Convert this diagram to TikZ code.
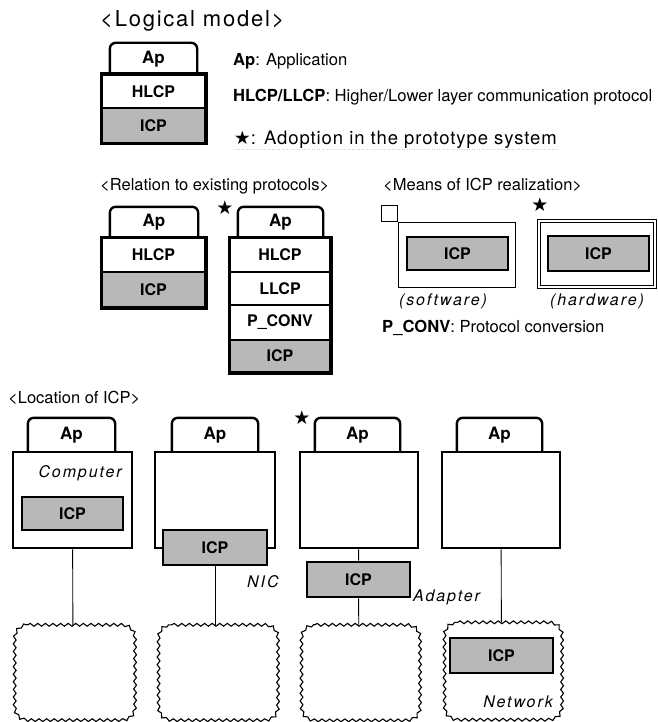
\documentclass[tikz,border=0pt]{standalone}
\usepackage{fontspec}
\setmainfont{TeX Gyre Heros}
\newfontfamily\symf{DejaVu Sans}
\newfontfamily\spc[LetterSpace=12]{TeX Gyre Heros}
\newfontfamily\spcs[LetterSpace=8]{TeX Gyre Heros}
\newfontfamily\spcm[LetterSpace=5]{TeX Gyre Heros}
\usetikzlibrary{decorations.pathmorphing}
\definecolor{icpgray}{gray}{0.72}
\newcommand\wavyframe[1]{%
  \draw[cloudline] ([xshift=15pt]#1.north west) -- ([xshift=-15pt]#1.north east)
    .. controls ([xshift=-5pt]#1.north east) and ([yshift=-5pt]#1.north east) .. ([yshift=-15pt]#1.north east)
    -- ([yshift=15pt]#1.south east)
    .. controls ([yshift=5pt]#1.south east) and ([xshift=-5pt]#1.south east) .. ([xshift=-15pt]#1.south east)
    -- ([xshift=15pt]#1.south west)
    .. controls ([xshift=5pt]#1.south west) and ([yshift=5pt]#1.south west) .. ([yshift=15pt]#1.south west)
    -- ([yshift=-15pt]#1.north west)
    .. controls ([yshift=-5pt]#1.north west) and ([xshift=5pt]#1.north west) .. ([xshift=15pt]#1.north west) -- cycle;}
\begin{document}
\begin{tikzpicture}[x=1pt,y=-1pt,
  cell/.style={draw, line width=2pt, fill=white, inner sep=0pt, font=\fontsize{16}{18}\selectfont\bfseries},
  gcell/.style={cell, fill=icpgray},
  tabn/.style={inner sep=0pt, font=\fontsize{17}{19}\selectfont\bfseries},
  tabline/.style={line width=2.4pt, rounded corners=6pt},
  frame/.style={line width=3pt},
  icp/.style={draw, line width=2.6pt, fill=icpgray, inner sep=0pt, font=\fontsize{16}{18}\selectfont\bfseries},
  comp/.style={draw, line width=2.6pt, fill=white, inner sep=0pt},
  cloudbox/.style={inner sep=0pt},
  cloudline/.style={line width=1.1pt, decorate, decoration={snake, segment length=7.6pt, amplitude=1.4pt}},
  wire/.style={line width=0.9pt},
  ilab/.style={inner sep=0pt, font=\fontsize{16}{18}\selectfont\spc\itshape},
  head/.style={inner sep=0pt, anchor=base west, font=\fontsize{16.5}{18}\selectfont},
  note/.style={inner sep=0pt, anchor=base west, font=\fontsize{16.6}{18}\selectfont},
  star/.style={inner sep=0pt, font=\fontsize{19}{21}\selectfont\symf}
]
\useasboundingbox (0,0) rectangle (657,722);

% ---------- Logical model ----------
\node[inner sep=0pt, anchor=base west, font=\fontsize{22}{24}\selectfont\spcs] (tlog) at (100,27) {<Logical model>};
\node[tabn, minimum width=87pt, minimum height=32pt] (lt) at (153.5,59) {Ap};
\draw[tabline] (lt.south west) -- (lt.north west) -- (lt.north east) -- (lt.south east);
\node[cell, minimum width=103pt, minimum height=33pt] (lh) at (153.5,91.5) {HLCP};
\node[gcell, minimum width=103pt, minimum height=35pt] (li) at (153.5,125.5) {ICP};
\draw[frame] (lh.north west) rectangle (li.south east);

\node[note] (nap) at (233,66) {\textbf{Ap}: Application};
\node[note] (nhl) at (233,102) {\textbf{HLCP/LLCP}: Higher/Lower layer communication protocol};
\node[inner sep=0pt, anchor=base west, font=\fontsize{18.5}{20}\selectfont\spcm] (nst) at (234,145) {{\symf ★}: Adoption in the prototype system};
\draw[gray!40, line width=0.5pt, dotted] ([yshift=-4pt]nst.base west) -- ([yshift=-4pt]nst.base east);

% ---------- Relation to existing protocols ----------
\node[head] (trel) at (100,190) {<Relation to existing protocols>};
\node[tabn, minimum width=88pt, minimum height=31pt] (at) at (154,222.5) {Ap};
\draw[tabline] (at.south west) -- (at.north west) -- (at.north east) -- (at.south east);
\node[cell, minimum width=103pt, minimum height=34pt] (ah) at (153.5,255) {HLCP};
\node[gcell, minimum width=103pt, minimum height=35pt] (ai) at (153.5,289.5) {ICP};
\draw[frame] (ah.north west) rectangle (ai.south east);

\node[star] (s1) at (225,208) {★};
\node[tabn, minimum width=85pt, minimum height=31pt] (bt) at (280.5,222.5) {Ap};
\draw[tabline] (bt.south west) -- (bt.north west) -- (bt.north east) -- (bt.south east);
\node[cell, minimum width=100pt, minimum height=34pt] (bh) at (280,255) {HLCP};
\node[cell, minimum width=100pt, minimum height=33pt] (bl) at (280,288.5) {LLCP};
\node[cell, minimum width=100pt, minimum height=35pt] (bp) at (280,322.5) {P\_CONV};
\node[gcell, minimum width=100pt, minimum height=32pt] (bi) at (280,356) {ICP};
\draw[frame] (bh.north west) rectangle (bi.south east);

% ---------- Means of ICP realization ----------
\node[head] (tmean) at (383,190) {<Means of ICP realization>};
\node[draw, line width=0.8pt, minimum width=117pt, minimum height=65pt, inner sep=0pt] (sw) at (456.5,254.5) {};
\node[draw, line width=0.8pt, minimum size=16pt, inner sep=0pt, anchor=south east] (sq) at (sw.north west) {};
\node[icp, minimum width=101pt, minimum height=33pt] (swi) at (457.5,253.5) {ICP};
\node[ilab] (lsw) at (443,301) {(software)};

\node[star] (s2) at (540,205) {★};
\node[draw, line width=0.8pt, double, double distance=2.2pt, minimum width=116pt, minimum height=66pt, inner sep=0pt] (hw) at (597,254) {};
\node[icp, minimum width=101pt, minimum height=35pt] (hwi) at (598.5,253.5) {ICP};
\node[ilab] (lhw) at (597,301) {(hardware)};

\node[note] (npc) at (382,332) {\textbf{P\_CONV}: Protocol conversion};

% ---------- Location of ICP ----------
\node[head] (tloc) at (8,403) {<Location of ICP>};

% column 1
\node[tabn, minimum width=87pt, minimum height=34pt] (c1t) at (71.5,435) {Ap};
\draw[tabline] (c1t.south west) -- (c1t.north west) -- (c1t.north east) -- (c1t.south east);
\node[comp, minimum width=119pt, minimum height=96pt] (c1) at (72.5,500) {};
\node[ilab, anchor=base east] (lc1) at (122,477) {Computer};
\node[icp, minimum width=101pt, minimum height=33pt] (c1i) at (72.5,513.5) {ICP};
\node[cloudbox, minimum width=120pt, minimum height=95pt] (n1) at (73,672.5) {};
\wavyframe{n1}
\draw[wire] (c1) -- (n1);

% column 2
\node[tabn, minimum width=86pt, minimum height=34pt] (c2t) at (215,435) {Ap};
\draw[tabline] (c2t.south west) -- (c2t.north west) -- (c2t.north east) -- (c2t.south east);
\node[comp, minimum width=120pt, minimum height=96pt] (c2) at (215,500) {};
\node[icp, minimum width=104pt, minimum height=35pt] (c2i) at (215,547.5) {ICP};
\node[ilab, anchor=base west] (lc2) at (247,587) {NIC};
\node[cloudbox, minimum width=119pt, minimum height=95pt] (n2) at (216.5,672.5) {};
\wavyframe{n2}
\draw[wire] (c2i.south) -- (c2i.south |- n2.north);

% column 3
\node[star] (s3) at (302,418) {★};
\node[tabn, minimum width=85pt, minimum height=34pt] (c3t) at (357.5,435) {Ap};
\draw[tabline] (c3t.south west) -- (c3t.north west) -- (c3t.north east) -- (c3t.south east);
\node[comp, minimum width=118pt, minimum height=96pt] (c3) at (359,500) {};
\node[icp, minimum width=103pt, minimum height=35pt] (c3i) at (358.5,579.5) {ICP};
\node[ilab, anchor=base west] (lc3) at (413,601) {Adapter};
\node[cloudbox, minimum width=118pt, minimum height=95pt] (n3) at (359,672.5) {};
\wavyframe{n3}
\draw[wire] (c3) -- (c3i);
\draw[wire] (c3i) -- (n3);

% column 4
\node[tabn, minimum width=85pt, minimum height=34pt] (c4t) at (499.5,435) {Ap};
\draw[tabline] (c4t.south west) -- (c4t.north west) -- (c4t.north east) -- (c4t.south east);
\node[comp, minimum width=118pt, minimum height=96pt] (c4) at (501,500) {};
\node[cloudbox, minimum width=117pt, minimum height=97pt] (n4) at (501.5,671) {};
\wavyframe{n4}
\draw[wire] (c4) -- (n4);
\node[icp, minimum width=103pt, minimum height=35pt] (c4i) at (501.5,655.5) {ICP};
\node[ilab, anchor=base east] (lc4) at (553,707) {Network};
\end{tikzpicture}
\end{document}
